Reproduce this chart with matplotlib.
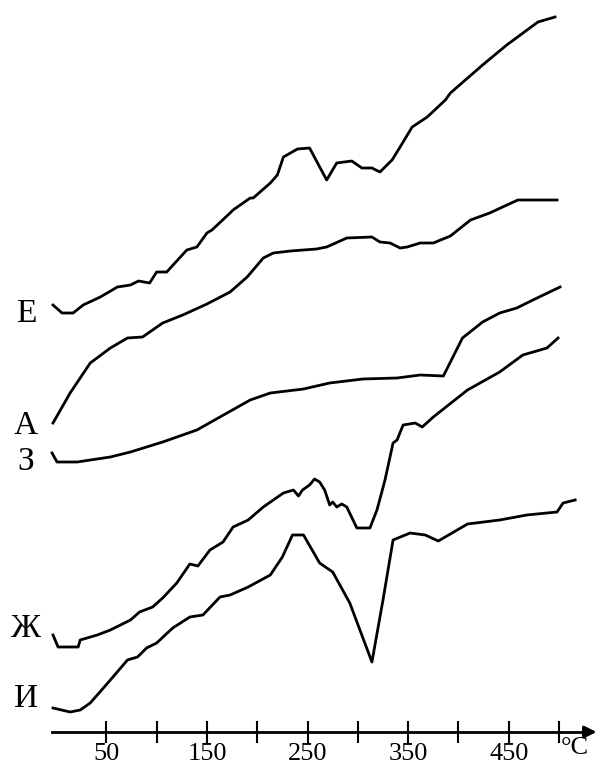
import matplotlib.pyplot as plt

# temperature (°C) and signal (arbitrary units) for each curve
e_t = [-3, 6, 17, 27, 44, 61, 74, 82, 93, 100, 110, 130, 140, 150, 155, 173, 176, 193, 196, 213,
       220, 226, 240, 252, 269, 279, 294, 304, 314, 322, 334, 342, 354, 369, 387, 392, 424, 448, 479, 496]
e_y = [462, 454, 454, 462, 470, 480, 482, 486, 484, 495, 495, 517, 520, 534, 537, 554, 557, 569, 569, 584,
       592, 610, 618, 619, 587, 604, 606, 599, 599, 595, 607, 620, 640, 650, 667, 674, 702, 722, 745, 750]

a_t = [-3, 14, 34, 54, 71, 86, 106, 126, 150, 173, 190, 206, 216, 233, 259, 269, 289, 314, 322, 332,
       342, 349, 362, 375, 392, 412, 431, 459, 498]
a_y = [344, 374, 404, 419, 429, 430, 444, 452, 463, 475, 490, 509, 514, 516, 518, 520, 529, 530, 525, 524,
       519, 520, 524, 524, 531, 547, 554, 567, 567]

z_t = [-4, 1, 21, 54, 74, 106, 140, 170, 193, 213, 246, 272, 305, 339, 362, 385, 404, 424, 441, 458, 474, 501]
z_y = [314, 305, 305, 310, 315, 325, 337, 354, 367, 374, 378, 384, 388, 389, 392, 391, 429, 445, 454, 459, 467, 480]

zh_t = [-3, 2, 22, 24, 41, 54, 74, 83, 96, 106, 120, 133, 141, 153, 166, 176, 191, 206, 226, 236,
        241, 245, 252, 257, 262, 267, 272, 275, 279, 284, 289, 299, 312, 319, 327, 335, 339, 345, 357, 364,
        375, 409, 441, 464, 488, 499]
zh_y = [132, 120, 120, 127, 132, 137, 147, 155, 160, 169, 184, 203, 201, 217, 225, 240, 247, 260, 274, 277,
        271, 277, 282, 288, 285, 277, 262, 265, 260, 263, 260, 239, 239, 257, 287, 324, 327, 342, 344, 340,
        350, 377, 395, 412, 419, 429]

i_t = [-3, 14, 24, 34, 54, 71, 81, 90, 100, 116, 133, 146, 163, 173, 191, 213, 225, 235, 246, 262,
       275, 292, 314, 325, 335, 352, 367, 380, 409, 441, 468, 498, 504, 516]
i_y = [59, 55, 57, 64, 87, 107, 110, 119, 124, 139, 150, 152, 170, 172, 180, 192, 210, 232, 232, 204,
       195, 164, 105, 167, 227, 234, 232, 226, 243, 247, 252, 255, 264, 267]

curve_names = ['Е', 'А', 'З', 'Ж', 'И']
name_y = [453, 341, 305, 138, 68]
tick_vals = [50, 100, 150, 200, 250, 300, 350, 400, 450, 500]
tick_text = ['50', '', '150', '', '250', '', '350', '', '450', '']

serif = 'Liberation Serif'

fig = plt.figure(figsize=(6.01, 7.67), dpi=100)
ax = fig.add_axes([0, 0, 1, 1])

for t, y in [(e_t, e_y), (a_t, a_y), (z_t, z_y), (zh_t, zh_y), (i_t, i_y)]:
    ax.plot(t, y, color='black', linewidth=2.0, solid_joinstyle='round')

for name, y in zip(curve_names, name_y):
    ax.text(-30, y, name, family=serif, fontsize=24, ha='center', va='center')

ax.set_xlim(-55.7, 541.7)
ax.set_ylim(0, 767)

# temperature axis with arrow
for s in ['top', 'right', 'left']:
    ax.spines[s].set_visible(False)
ax.spines['bottom'].set_position(('data', 35))
ax.spines['bottom'].set_bounds(-4, 530)
ax.spines['bottom'].set_linewidth(2)
ax.annotate('', xy=(540, 35), xytext=(525, 35),
            arrowprops=dict(arrowstyle='-|>', color='black', lw=2, mutation_scale=18))
ax.set_yticks([])
ax.set_xticks(tick_vals)
ax.set_xticklabels(tick_text, family=serif, fontsize=19)
ax.tick_params(axis='x', direction='inout', length=16, width=1.5, pad=0)
ax.text(516, 19, '°C', family=serif, fontsize=19, ha='center', va='center')

fig.savefig('out.png', dpi=100)
